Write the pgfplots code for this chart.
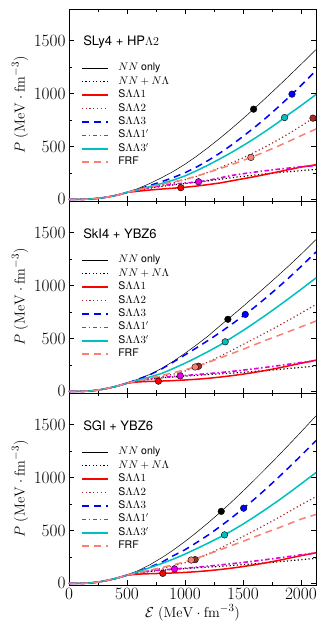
\documentclass[border=0pt]{standalone}
\usepackage[no-math]{fontspec}
\setmainfont{TeX Gyre Heros}
\usepackage{pgfplots}
\pgfplotsset{compat=1.18}
\definecolor{mbrown}{RGB}{165,42,42}
\definecolor{magc}{RGB}{225,0,225}
\definecolor{mcyan}{RGB}{0,191,191}
\definecolor{msalmon}{RGB}{250,128,114}
\tikzset{ttl/.style={anchor=west, font=\fontsize{13}{15}\selectfont, inner sep=0pt}}
\pgfplotsset{
  panel/.style={
    width=247pt, height=192pt, scale only axis,
    xmin=0, xmax=2130, ymin=-15, ymax=1800,
    xtick={0,500,...,2000}, ytick={0,500,1000,1500},
    minor x tick num=1, minor y tick num=1,
    /pgf/number format/1000 sep={},
    tick align=inside, major tick length=5pt, minor tick length=3pt,
    axis line style={line width=0.8pt},
    every tick/.style={black, line width=0.6pt},
    tick label style={font=\fontsize{16}{18}\selectfont},
    ylabel={$P\ (\mathrm{MeV}\cdot\mathrm{fm}^{-3})$},
    ylabel style={font=\fontsize{15}{17}\selectfont, at={(axis description cs:-0.198,0.5)}, anchor=center},
    clip=false,
    legend cell align=left,
    legend style={at={(axis description cs:0.0486,0.7255)}, anchor=north west,
      draw=none, fill=none, inner sep=0pt, outer sep=0pt, row sep=0pt, column sep=8.5pt,
      font=\fontsize{10.5}{12}\selectfont,
      nodes={inner sep=1.2pt, text height=8pt, text depth=3pt}},
    legend image code/.code={\draw[#1] (0pt,0pt) -- (26pt,0pt);},
  },
  nn/.style={color=black, line width=0.5pt},
  nnl/.style={color=black, line width=1.2pt, dash pattern=on 1.2pt off 2.4pt},
  sa/.style={color=red, line width=1.5pt},
  sb/.style={color=mbrown, line width=1.2pt, dash pattern=on 1.2pt off 2.6pt},
  sc/.style={color=blue, line width=1.5pt, dash pattern=on 7pt off 5pt},
  smag/.style={draw=magc, color=magc, line width=1.6pt, dash pattern=on 4.5pt off 2.5pt on 1.5pt off 2.5pt},
  scp/.style={color=mcyan, line width=1.5pt},
  frf/.style={color=msalmon, line width=1.5pt, dash pattern=on 7pt off 5pt},
  dot/.style={only marks, mark=*, mark size=3.3pt, forget plot, mark options={fill=#1, draw=black, line width=0.4pt, solid}},
}
\begin{document}
\begin{tikzpicture}
\path[use as bounding box] (-69pt,-45pt) rectangle (257pt,585pt);
% ---------------- Panel 1 ----------------
\begin{axis}[panel, at={(0pt,384pt)}, anchor=south west, xticklabels={}]
\addplot[nn] coordinates {(0,0) (100,0.5) (150,2) (200,5) (250,10) (300,17) (350,26) (400,37) (450,50) (500,66) (600,105) (700,152) (800,206) (900,265) (1000,332) (1100,408) (1200,490) (1300,577) (1400,668) (1500,763) (1600,861) (1700,962) (1800,1065) (1900,1170) (2000,1276) (2130,1416)};
\addlegendentry{$NN$ only}
\addplot[nnl] coordinates {(0,0) (100,0.5) (150,2) (200,5) (250,10) (300,17) (350,26) (400,37) (450,50) (500,66) (600,88) (700,107) (800,123) (900,137) (1000,150) (1100,163) (1200,176) (1300,190) (1400,205) (1500,218) (1600,230) (1700,242) (1800,253) (1900,263) (2000,272) (2130,284)};
\addlegendentry{$NN+N\Lambda$}
\addplot[sa] coordinates {(0,0) (100,0.5) (150,2) (200,5) (250,10) (300,17) (350,26) (400,37) (450,50) (500,66) (600,78) (700,89) (800,98) (900,106) (1000,115) (1100,126) (1200,140) (1300,155) (1400,175) (1500,195) (1600,215) (1700,237) (1800,260) (1900,283) (2000,305) (2130,328)};
\addlegendentry{S$\Lambda\Lambda1$}
\addplot[sb] coordinates {(0,0) (100,0.5) (150,2) (200,5) (250,10) (300,17) (350,26) (400,37) (450,50) (500,66) (600,92) (700,115) (800,137) (900,159) (1000,185) (1100,218) (1200,256) (1300,299) (1400,345) (1500,393) (1600,445) (1700,501) (1800,561) (1900,625) (2000,693) (2130,787)};
\addlegendentry{S$\Lambda\Lambda2$}
\addplot[sc] coordinates {(0,0) (100,0.5) (150,2) (200,5) (250,10) (300,17) (350,26) (400,37) (450,50) (500,66) (600,97) (700,132) (800,168) (900,207) (1000,252) (1100,306) (1200,368) (1300,437) (1400,513) (1500,595) (1600,681) (1700,772) (1800,869) (1900,970) (2000,1076) (2130,1218)};
\addlegendentry{S$\Lambda\Lambda3$}
\addplot[smag] coordinates {(0,0) (100,0.5) (150,2) (200,5) (250,10) (300,17) (350,26) (400,37) (450,50) (500,66) (600,90) (700,112) (800,130) (900,144) (1000,155) (1100,164) (1200,180) (1300,203) (1400,226) (1500,243) (1600,258) (1700,272) (1800,285) (1900,297) (2000,308) (2130,320)};
\addlegendentry{S$\Lambda\Lambda1'$}
\addplot[scp] coordinates {(0,0) (100,0.5) (150,2) (200,5) (250,10) (300,17) (350,26) (400,37) (450,50) (500,66) (600,93) (700,122) (800,151) (900,183) (1000,222) (1100,271) (1200,325) (1300,382) (1400,443) (1500,508) (1600,576) (1700,649) (1800,725) (1900,808) (2000,886) (2130,992)};
\addlegendentry{S$\Lambda\Lambda3'$}
\addplot[frf] coordinates {(0,0) (100,0.5) (150,2) (200,5) (250,10) (300,17) (350,26) (400,37) (450,50) (500,66) (600,92) (700,118) (800,142) (900,165) (1000,190) (1100,220) (1200,255) (1300,290) (1400,328) (1500,368) (1600,410) (1700,455) (1800,502) (1900,551) (2000,602) (2130,665)};
\addlegendentry{FRF}
\addplot[dot=black] coordinates {(1592,853)};
\addplot[dot=blue] coordinates {(1923,995)};
\addplot[dot=mcyan] coordinates {(1859,774)};
\addplot[dot=mbrown] coordinates {(2104,768)};
\addplot[dot=msalmon] coordinates {(1569,397)};
\addplot[dot=magc] coordinates {(1117,167)};
\addplot[dot=red] coordinates {(964,111)};
\node[ttl] at (axis description cs:0.057,0.827) {SLy4 + HP$\Lambda2$};
\end{axis}
% ---------------- Panel 2 ----------------
\begin{axis}[panel, at={(0pt,192pt)}, anchor=south west, xticklabels={}]
\addplot[nn] coordinates {(0,0) (100,0.5) (150,2) (200,6) (250,13) (300,22) (350,33) (400,46) (450,61) (500,78) (600,118) (700,162) (800,218) (900,285) (1000,360) (1100,440) (1200,524) (1300,618) (1400,710) (1500,803) (1600,898) (1700,994) (1800,1092) (1900,1192) (2000,1295) (2130,1435)};
\addlegendentry{$NN$ only}
\addplot[nnl] coordinates {(0,0) (100,0.5) (150,2) (200,6) (250,13) (300,22) (350,33) (400,46) (450,61) (500,78) (600,100) (700,116) (800,128) (900,137) (1000,145) (1100,152) (1200,159) (1300,166) (1400,173) (1500,181) (1600,189) (1700,198) (1800,207) (1900,217) (2000,227) (2130,240)};
\addlegendentry{$NN+N\Lambda$}
\addplot[sa] coordinates {(0,0) (100,0.5) (150,2) (200,6) (250,13) (300,22) (350,33) (400,46) (450,61) (500,78) (600,90) (700,95) (800,98) (900,102) (1000,108) (1100,115) (1200,124) (1300,135) (1400,148) (1500,163) (1600,180) (1700,199) (1800,220) (1900,243) (2000,266) (2130,295)};
\addlegendentry{S$\Lambda\Lambda1$}
\addplot[sb] coordinates {(0,0) (100,0.5) (150,2) (200,6) (250,13) (300,22) (350,33) (400,46) (450,61) (500,78) (600,100) (700,119) (800,139) (900,163) (1000,193) (1100,232) (1200,278) (1300,330) (1400,386) (1500,443) (1600,500) (1700,557) (1800,616) (1900,677) (2000,740) (2130,822)};
\addlegendentry{S$\Lambda\Lambda2$}
\addplot[sc] coordinates {(0,0) (100,0.5) (150,2) (200,6) (250,13) (300,22) (350,33) (400,46) (450,61) (500,78) (600,117) (700,158) (800,213) (900,278) (1000,345) (1100,412) (1200,482) (1300,555) (1400,632) (1500,712) (1600,796) (1700,886) (1800,980) (1900,1078) (2000,1180) (2130,1318)};
\addlegendentry{S$\Lambda\Lambda3$}
\addplot[smag] coordinates {(0,0) (100,0.5) (150,2) (200,6) (250,13) (300,22) (350,33) (400,46) (450,61) (500,78) (600,102) (700,119) (800,132) (900,142) (1000,150) (1100,159) (1200,168) (1300,178) (1400,189) (1500,201) (1600,214) (1700,228) (1800,243) (1900,258) (2000,273) (2130,290)};
\addlegendentry{S$\Lambda\Lambda1'$}
\addplot[scp] coordinates {(0,0) (100,0.5) (150,2) (200,6) (250,13) (300,22) (350,33) (400,46) (450,61) (500,78) (600,108) (700,137) (800,170) (900,217) (1000,266) (1100,320) (1200,377) (1300,437) (1400,506) (1500,575) (1600,648) (1700,724) (1800,802) (1900,882) (2000,964) (2130,1073)};
\addlegendentry{S$\Lambda\Lambda3'$}
\addplot[frf] coordinates {(0,0) (100,0.5) (150,2) (200,6) (250,13) (300,22) (350,33) (400,46) (450,61) (500,78) (600,102) (700,125) (800,150) (900,177) (1000,205) (1100,234) (1200,274) (1300,315) (1400,356) (1500,398) (1600,441) (1700,485) (1800,526) (1900,568) (2000,610) (2130,665)};
\addlegendentry{FRF}
\addplot[dot=black] coordinates {(1370,682)};
\addplot[dot=blue] coordinates {(1520,728)};
\addplot[dot=mcyan] coordinates {(1347,469)};
\addplot[dot=mbrown] coordinates {(1117,238)};
\addplot[dot=msalmon] coordinates {(1088,231)};
\addplot[dot=magc] coordinates {(959,147)};
\addplot[dot=red] coordinates {(771,97)};
\node[ttl] at (axis description cs:0.057,0.827) {SkI4 + YBZ6};
\end{axis}
% ---------------- Panel 3 ----------------
\begin{axis}[panel, at={(0pt,0pt)}, anchor=south west,
  xlabel={$\mathcal{E}\ (\mathrm{MeV}\cdot\mathrm{fm}^{-3})$},
  xlabel style={font=\fontsize{15}{17}\selectfont, at={(axis description cs:0.5,-0.145)}, anchor=center}]
\addplot[nn] coordinates {(0,0) (100,0.5) (150,2) (200,6) (250,13) (300,22) (350,33) (400,46) (450,61) (500,78) (600,123) (700,178) (800,243) (900,316) (1000,396) (1100,482) (1200,573) (1300,668) (1400,768) (1500,872) (1600,979) (1700,1089) (1800,1201) (1900,1315) (2000,1431) (2130,1584)};
\addlegendentry{$NN$ only}
\addplot[nnl] coordinates {(0,0) (100,0.5) (150,2) (200,6) (250,13) (300,22) (350,33) (400,46) (450,61) (500,78) (600,100) (700,114) (800,124) (900,132) (1000,140) (1100,147) (1200,154) (1300,161) (1400,169) (1500,177) (1600,186) (1700,195) (1800,204) (1900,214) (2000,224) (2130,237)};
\addlegendentry{$NN+N\Lambda$}
\addplot[sa] coordinates {(0,0) (100,0.5) (150,2) (200,6) (250,13) (300,22) (350,33) (400,46) (450,61) (500,78) (600,88) (700,92) (800,95) (900,99) (1000,104) (1100,111) (1200,120) (1300,131) (1400,144) (1500,159) (1600,176) (1700,195) (1800,216) (1900,239) (2000,262) (2130,290)};
\addlegendentry{S$\Lambda\Lambda1$}
\addplot[sb] coordinates {(0,0) (100,0.5) (150,2) (200,6) (250,13) (300,22) (350,33) (400,46) (450,61) (500,78) (600,100) (700,120) (800,142) (900,166) (1000,195) (1100,231) (1200,278) (1300,330) (1400,386) (1500,443) (1600,500) (1700,558) (1800,618) (1900,680) (2000,743) (2130,820)};
\addlegendentry{S$\Lambda\Lambda2$}
\addplot[sc] coordinates {(0,0) (100,0.5) (150,2) (200,6) (250,13) (300,22) (350,33) (400,46) (450,61) (500,78) (600,115) (700,155) (800,200) (900,262) (1000,318) (1100,386) (1200,457) (1300,535) (1400,618) (1500,706) (1600,798) (1700,895) (1800,996) (1900,1100) (2000,1207) (2130,1350)};
\addlegendentry{S$\Lambda\Lambda3$}
\addplot[smag] coordinates {(0,0) (100,0.5) (150,2) (200,6) (250,13) (300,22) (350,33) (400,46) (450,61) (500,78) (600,102) (700,118) (800,128) (900,136) (1000,144) (1100,153) (1200,163) (1300,174) (1400,186) (1500,198) (1600,211) (1700,225) (1800,240) (1900,255) (2000,270) (2130,288)};
\addlegendentry{S$\Lambda\Lambda1'$}
\addplot[scp] coordinates {(0,0) (100,0.5) (150,2) (200,6) (250,13) (300,22) (350,33) (400,46) (450,61) (500,78) (600,112) (700,150) (800,188) (900,230) (1000,277) (1100,328) (1200,381) (1300,436) (1400,495) (1500,560) (1600,630) (1700,703) (1800,779) (1900,858) (2000,940) (2130,1048)};
\addlegendentry{S$\Lambda\Lambda3'$}
\addplot[frf] coordinates {(0,0) (100,0.5) (150,2) (200,6) (250,13) (300,22) (350,33) (400,46) (450,61) (500,78) (600,102) (700,126) (800,150) (900,176) (1000,204) (1100,238) (1200,276) (1300,316) (1400,357) (1500,398) (1600,440) (1700,482) (1800,522) (1900,565) (2000,608) (2130,652)};
\addlegendentry{FRF}
\addplot[dot=black] coordinates {(1313,681)};
\addplot[dot=blue] coordinates {(1506,711)};
\addplot[dot=mcyan] coordinates {(1341,459)};
\addplot[dot=mbrown] coordinates {(1088,225)};
\addplot[dot=msalmon] coordinates {(1054,221)};
\addplot[dot=magc] coordinates {(910,137)};
\addplot[dot=red] coordinates {(809,95)};
\node[ttl] at (axis description cs:0.057,0.827) {SGI + YBZ6};
\end{axis}
\end{tikzpicture}
\end{document}
